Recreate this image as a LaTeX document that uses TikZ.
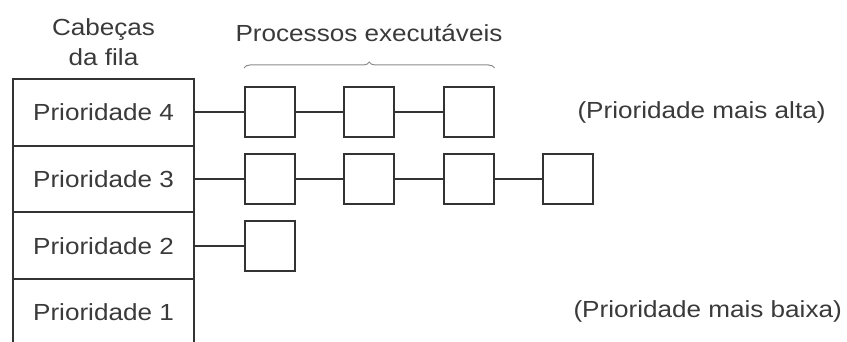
\documentclass[tikz,border=0pt]{standalone}
\usepackage{fontspec}
\setmainfont{Liberation Sans}[FakeStretch=1.12]
\usetikzlibrary{decorations.pathreplacing}
\definecolor{ink}{HTML}{333333}
\definecolor{txt}{HTML}{3A3A3A}
\definecolor{bracec}{HTML}{8A8A8A}
\begin{document}
\begin{tikzpicture}[x=1pt,y=1pt,
  every node/.style={font=\fontsize{23.3}{30}\selectfont, text=txt},
  head/.style={rectangle, draw=ink, line width=2pt, minimum width=181pt, minimum height=66.7pt, inner sep=0pt},
  headopen/.style={rectangle, minimum width=181pt, minimum height=66pt, inner sep=0pt},
  proc/.style={rectangle, draw=ink, line width=2pt, minimum width=50pt, minimum height=50pt, inner sep=0pt},
  link/.style={draw=ink, line width=1.7pt}]
\useasboundingbox (0,0) rectangle (847,-342);
% queue heads
\node[head] (p4) at (103.5,-112.4) {Prioridade 4};
\node[head] (p3) at (103.5,-179.1) {Prioridade 3};
\node[head] (p2) at (103.5,-245.8) {Prioridade 2};
\node[headopen] (p1) at (103.5,-312.1) {Prioridade 1};
\draw[ink, line width=2pt] (p1.north west) -- (p1.west |- 0,-342);
\draw[ink, line width=2pt] (p1.north east) -- (p1.east |- 0,-342);
% header texts
\node[align=center] (hd) at (103.5,-42) {Cabeças\\da fila};
% process boxes
\node[proc] (a1) at (270,-112) {};
\node[proc] (a2) at (368.5,-112) {};
\node[proc] (a3) at (468.5,-112) {};
\node[proc] (b1) at (270,-179) {};
\node[proc] (b2) at (368.5,-179) {};
\node[proc] (b3) at (468.5,-179) {};
\node[proc] (b4) at (568,-179) {};
\node[proc] (c1) at (270,-246) {};
% connectors
\draw[link] (p4.east |- a1) -- (a1.west);
\draw[link] (a1.east) -- (a2.west);
\draw[link] (a2.east) -- (a3.west);
\draw[link] (p3.east |- b1) -- (b1.west);
\draw[link] (b1.east) -- (b2.west);
\draw[link] (b2.east) -- (b3.west);
\draw[link] (b3.east) -- (b4.west);
\draw[link] (p2.east |- c1) -- (c1.west);
% brace and label
\coordinate (br1) at (a1.west |- 0,-68);
\coordinate (br2) at (a3.east |- 0,-68);
\draw[bracec, line width=1pt, decorate, decoration={brace, amplitude=6pt}] (br1) -- (br2);
\node (pe) at (369,-33) {Processos executáveis};
% side notes
\node[anchor=west] (hi) at (574,-112) {(Prioridade mais alta)};
\node[anchor=west] (lo) at (570,-311) {(Prioridade mais baixa)};
\end{tikzpicture}
\end{document}
